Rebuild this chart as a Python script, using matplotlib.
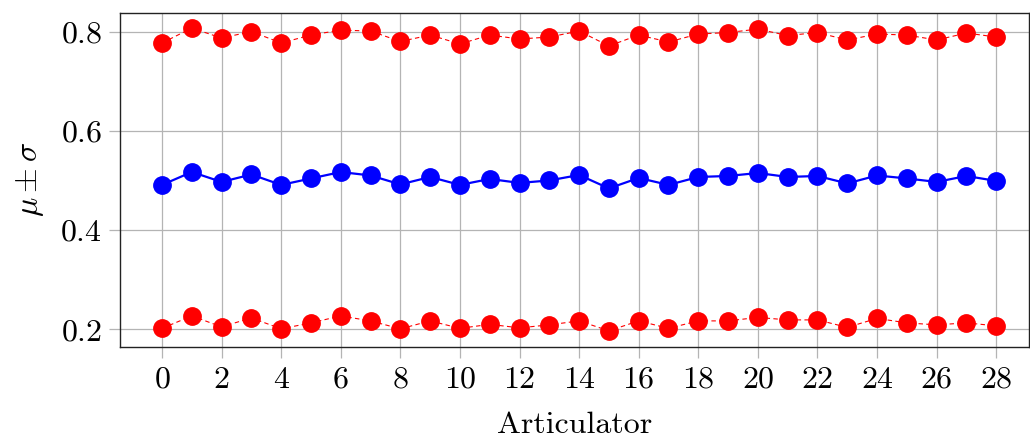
import numpy as np
import matplotlib
matplotlib.use('Agg')
import matplotlib.pyplot as plt

plt.rcParams['font.family'] = 'serif'
plt.rcParams['font.serif'] = ['cmr10']
plt.rcParams['mathtext.fontset'] = 'cm'
plt.rcParams['axes.formatter.use_mathtext'] = True

articulator = np.arange(29)
mean = [0.491, 0.517, 0.497, 0.512, 0.491, 0.504, 0.517, 0.510, 0.492, 0.507,
        0.491, 0.503, 0.495, 0.500, 0.511, 0.484, 0.505, 0.491, 0.507, 0.509,
        0.515, 0.507, 0.509, 0.494, 0.510, 0.504, 0.497, 0.509, 0.499]
upper = [0.777, 0.807, 0.787, 0.800, 0.777, 0.793, 0.803, 0.801, 0.780, 0.793,
         0.775, 0.793, 0.785, 0.789, 0.801, 0.771, 0.793, 0.779, 0.795, 0.798,
         0.805, 0.792, 0.798, 0.783, 0.795, 0.793, 0.783, 0.797, 0.789]
lower = [0.202, 0.227, 0.205, 0.223, 0.201, 0.213, 0.227, 0.217, 0.201, 0.217,
         0.202, 0.210, 0.203, 0.209, 0.217, 0.197, 0.217, 0.202, 0.217, 0.217,
         0.224, 0.219, 0.219, 0.204, 0.222, 0.213, 0.209, 0.213, 0.207]

fig = plt.figure(figsize=(10.3, 4.38), dpi=100)
ax = fig.add_axes([120/1030, 1-346.7/438, 909/1030, 334/438])

ax.plot(articulator, upper, c='red', ls=(0, (4, 3)), lw=0.8, marker='o', ms=12.5, zorder=3)
ax.plot(articulator, mean, c='blue', lw=1.6, marker='o', ms=12.5, zorder=3)
ax.plot(articulator, lower, c='red', ls=(0, (4, 3)), lw=0.8, marker='o', ms=12.5, zorder=3)

ax.set_xlim(-1.41, 29.1)
ax.set_ylim(0.165, 0.838)
ax.set_xticks(range(0, 29, 2))
ax.set_yticks([0.2, 0.4, 0.6, 0.8])
ax.grid(True, color='#b4b4b4', lw=0.9)
ax.set_axisbelow(True)
ax.tick_params(labelsize=23, direction='out', length=8, color='#b4b4b4', width=0.9, pad=6)
ax.tick_params(axis='y', pad=5)
for s in ax.spines.values():
    s.set_linewidth(1.0)
    s.set_color('#222222')

ax.set_xlabel('Articulator', fontsize=23, labelpad=13)
ax.set_ylabel(r'$\mu \pm \sigma$', fontsize=23, labelpad=10)

plt.savefig('out.png', dpi=100)
